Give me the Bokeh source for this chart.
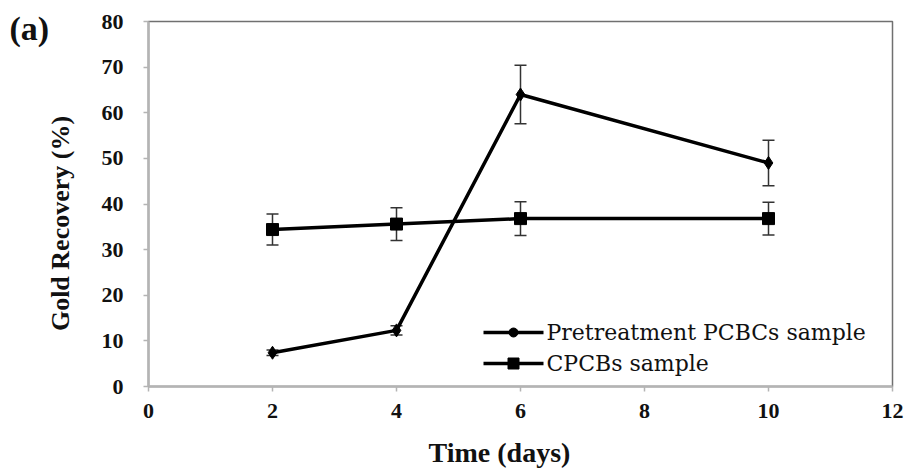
from bokeh.plotting import figure
from bokeh.models import ColumnDataSource, Whisker, Label, Range1d, FixedTicker
from bokeh.core.properties import value
from bokeh.embed import file_html
from bokeh.resources import INLINE

days = [2, 4, 6, 10]
pre_vals = [7.4, 12.3, 64.0, 49.0]
pre_err = [0.6, 1.0, 6.4, 5.0]
cpcb_vals = [34.4, 35.6, 36.8, 36.8]
cpcb_err = [3.4, 3.6, 3.7, 3.6]
x_ticks = [0, 2, 4, 6, 8, 10, 12]
y_ticks = [0, 10, 20, 30, 40, 50, 60, 70, 80]
series_names = ["Pretreatment PCBCs sample", "CPCBs sample"]
x_title = "Time (days)"
y_title = "Gold Recovery (%)"
panel_tag = "(a)"

SERIF = "Liberation Serif"
SERIF_REG = "DejaVu Serif"
AXC = "#b4b4b4"
OUTC = "#707070"
NBSP = "\u00a0"

X0, X1, Y0, Y1 = 0, 12, 0, 80
W, H = 905, 473
ML, MR, MT, MB = 148, 13, 21, 87

p = figure(width=W, height=H, output_backend="svg", toolbar_location=None,
           x_range=Range1d(X0, X1), y_range=Range1d(Y0, Y1),
           min_border_left=ML, min_border_right=MR, min_border_top=MT, min_border_bottom=MB)
p.grid.visible = False
p.outline_line_color = OUTC
p.outline_line_width = 1.5
p.background_fill_color = "white"
p.border_fill_color = "white"

for ax in (p.xaxis[0], p.yaxis[0]):
    ax.axis_line_color = AXC
    ax.axis_line_width = 2.5
    ax.major_tick_line_color = AXC
    ax.major_tick_line_width = 1.5
    ax.major_tick_in = 0
    ax.major_tick_out = 5
    ax.minor_tick_line_color = None
    ax.major_label_text_font = SERIF
    ax.major_label_text_font_style = "bold"
    ax.major_label_text_font_size = "22px"
    ax.major_label_text_color = "#111111"
    ax.axis_label_text_font = SERIF
    ax.axis_label_text_font_style = "bold"
    ax.axis_label_text_color = "#111111"

p.xaxis.ticker = FixedTicker(ticks=x_ticks)
p.yaxis.ticker = FixedTicker(ticks=y_ticks)
p.xaxis.major_label_standoff = 12
p.yaxis.major_label_standoff = 20
# trailing no-break spaces nudge the centred titles to the reference position
p.xaxis.axis_label = x_title + NBSP * 6
p.yaxis.axis_label = y_title + NBSP * 6
p.xaxis.axis_label_text_font_size = "28px"
p.yaxis.axis_label_text_font_size = "26px"
p.xaxis.axis_label_standoff = 16
p.yaxis.axis_label_standoff = 24

src_pre = ColumnDataSource(dict(x=days, y=pre_vals,
                                lo=[v - e for v, e in zip(pre_vals, pre_err)],
                                hi=[v + e for v, e in zip(pre_vals, pre_err)]))
src_cp = ColumnDataSource(dict(x=days, y=cpcb_vals,
                               lo=[v - e for v, e in zip(cpcb_vals, cpcb_err)],
                               hi=[v + e for v, e in zip(cpcb_vals, cpcb_err)]))

for src in (src_pre, src_cp):
    w = Whisker(source=src, base="x", upper="hi", lower="lo",
                line_color="#333333", line_width=1.5)
    for head in (w.upper_head, w.lower_head):
        head.size = 12
        head.line_color = "#333333"
        head.line_width = 1.5
    p.add_layout(w)

p.line("x", "y", source=src_pre, line_color="black", line_width=3.5)
p.scatter("x", "y", source=src_pre, marker="diamond", size=13, color="black")
p.line("x", "y", source=src_cp, line_color="black", line_width=3.5)
p.scatter("x", "y", source=src_cp, marker="square", size=12, color="black")

# manual legend (layout in screen pixels, converted to data units)
pxx = (X1 - X0) / (W - ML - MR)
pxy = (Y1 - Y0) / (H - MT - MB)
def sx(px):
    return X0 + (px - ML) * pxx
def sy(py):
    return Y0 + (H - MB - py) * pxy

leg_rows = [332, 363]
markers = ["circle", "square"]
msizes = [9, 11]
for name, row, mk, ms in zip(series_names, leg_rows, markers, msizes):
    p.line([sx(483), sx(543)], [sy(row), sy(row)], line_color="black", line_width=3.5)
    p.scatter([sx(513)], [sy(row)], marker=mk, size=ms, color="black")
    p.text([sx(546)], [sy(row)], text=[name], text_font=value(SERIF_REG),
           text_font_size="22px", text_baseline="middle", text_align="left",
           text_color="#111111")

lab = Label(x=sx(9), y=sy(9), text=panel_tag,
            text_font=SERIF, text_font_style="bold", text_font_size="34px",
            text_baseline="top", text_color="#111111")
p.add_layout(lab, "left")

open("out.html", "w").write(file_html(p, INLINE))
